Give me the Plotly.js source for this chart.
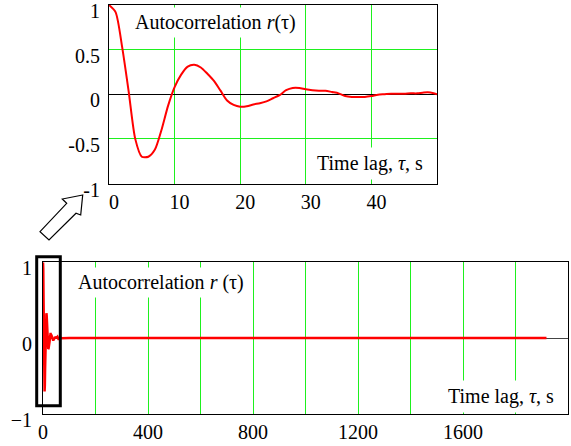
<!DOCTYPE html>
<html>
<head>
<meta charset="utf-8">
<script src="https://cdn.plot.ly/plotly-3.0.1.min.js"></script>
<style>html,body{margin:0;padding:0;background:#fff;}#chart{width:571px;height:446px;}</style>
</head>
<body>
<div id="chart"></div>
<script>
// Autocorrelation r(tau), lags 0..50 s
const lag = [0,1,2,3,4,5,6,7,8,9,10,11,12,13,14,15,16,17,18,19,20,21,22,23,24,25,26,27,28,29,30,31,32,33,34,35,36,37,38,39,40,41,42,43,44,45,46,47,48,49,50];
const r = [1.0,0.92,0.53,0.03,-0.50,-0.70,-0.70,-0.62,-0.40,-0.13,0.08,0.22,0.31,0.33,0.30,0.23,0.15,0.04,-0.07,-0.12,-0.14,-0.135,-0.115,-0.10,-0.08,-0.045,-0.01,0.045,0.07,0.07,0.055,0.045,0.04,0.04,0.025,0.01,-0.02,-0.03,-0.03,-0.03,-0.02,-0.005,0.0,0.005,0.005,0.005,0.01,0.01,0.02,0.02,0.0];
// Long-range tail (bottom panel), near zero
const tailLag = [55,60,65,70,100,300,600,900,1200,1500,1800,1918];
const tailR = [0.02,-0.02,0.015,0.0,0.004,0.003,0.004,0.003,0.004,0.003,0.004,0.003];
// Tick labels
const topXTicks = [0,10,20,30,40];
const topYTicks = [-1,-0.5,0,0.5,1];
const topYText = ['-1','-0.5','0','0.5','1'];
const botXTicks = [0,200,400,600,800,1000,1200,1400,1600,1800];
const botXText = ['0','','400','','800','','1200','','1600',''];
const botYTicks = [-1,0,1];

const W = 571, H = 446;
const px = x => x / W;
const py = y => 1 - y / H;
const FONT = 'Liberation Serif';
const GREEN = '#1ef01e';
const FS = 20;

const traces = [
  {x: lag, y: r, type: 'scatter', mode: 'lines', line: {color: '#ff0000', width: 2, shape: 'spline', smoothing: 0.7}, xaxis: 'x', yaxis: 'y', hoverinfo: 'skip'},
  {x: lag.concat(tailLag), y: r.concat(tailR), type: 'scatter', mode: 'lines', line: {color: '#ff0000', width: 2.5}, xaxis: 'x2', yaxis: 'y2', hoverinfo: 'skip'}
];

const tickFont = {family: FONT, size: FS, color: '#000'};
const layout = {
  width: W, height: H,
  margin: {l: 0, r: 0, t: 0, b: 0},
  paper_bgcolor: '#fff', plot_bgcolor: '#fff',
  font: {family: FONT, color: '#000'},
  showlegend: false,
  xaxis: {domain: [px(109), px(437)], range: [0, 50], tickvals: topXTicks, showgrid: true, gridcolor: GREEN, gridwidth: 1,
          zeroline: false, showline: true, mirror: true, linecolor: '#000', linewidth: 1, ticks: '', tickfont: tickFont,
          ticklabelshift: 5, anchor: 'y', fixedrange: true},
  yaxis: {domain: [py(183.5), py(5)], range: [-1, 1], tickvals: topYTicks, ticktext: topYText, showgrid: true, gridcolor: GREEN, gridwidth: 1,
          zeroline: true, zerolinecolor: '#000', zerolinewidth: 1.5, showline: true, mirror: true, linecolor: '#000', linewidth: 1,
          ticks: '', tickfont: tickFont, ticklabelshift: 6, ticklabelstandoff: 4, anchor: 'x', fixedrange: true},
  xaxis2: {domain: [px(43), px(568)], range: [0, 2000], tickvals: botXTicks, ticktext: botXText, showgrid: true, gridcolor: GREEN, gridwidth: 1,
          zeroline: false, showline: true, mirror: true, linecolor: '#000', linewidth: 1, ticks: '', tickfont: tickFont,
          anchor: 'y2', fixedrange: true},
  yaxis2: {domain: [py(414.3), py(262.3)], range: [-1, 1], tickvals: botYTicks, showgrid: false,
          zeroline: true, zerolinecolor: '#444', zerolinewidth: 1.5, showline: true, mirror: true, linecolor: '#000', linewidth: 1,
          ticks: '', tickfont: tickFont, ticklabelshift: 6, ticklabelstandoff: 6, anchor: 'x2', fixedrange: true},
  annotations: [
    {xref: 'paper', yref: 'paper', x: px(215), y: py(22), xanchor: 'center', yanchor: 'middle', showarrow: false,
     text: 'Autocorrelation <i>r</i>(τ)', font: {family: FONT, size: FS, color: '#000'}, bgcolor: '#fff', borderpad: 3},
    {xref: 'paper', yref: 'paper', x: px(370), y: py(164), xanchor: 'center', yanchor: 'middle', showarrow: false,
     text: 'Time lag, <i>τ</i>, s', font: {family: FONT, size: FS, color: '#000'}, bgcolor: '#fff', borderpad: 4},
    {xref: 'paper', yref: 'paper', x: px(161), y: py(282), xanchor: 'center', yanchor: 'middle', showarrow: false,
     text: 'Autocorrelation <i>r</i> (τ)', font: {family: FONT, size: FS, color: '#000'}, bgcolor: '#fff', borderpad: 3},
    {xref: 'paper', yref: 'paper', x: px(501.5), y: py(396), xanchor: 'center', yanchor: 'middle', showarrow: false,
     text: 'Time lag, <i>τ</i>, s', font: {family: FONT, size: FS, color: '#000'}, bgcolor: '#fff', borderpad: 4}
  ],
  shapes: [
    {type: 'rect', xref: 'paper', yref: 'paper', x0: px(36.7), x1: px(60.3), y0: py(405.7), y1: py(256.7),
     line: {color: '#000', width: 3}, fillcolor: 'rgba(0,0,0,0)'},
    {type: 'path', xref: 'paper', yref: 'paper',
     path: (function(){
       const pts = [[82.7,195],[62.3,199],[66.7,203.3],[40,231.7],[49,240],[76,213.3],[80.7,215]];
       return 'M' + pts.map(p => px(p[0]) + ',' + py(p[1])).join(' L') + ' Z';
     })(),
     line: {color: '#000', width: 1.2}, fillcolor: '#fff'}
  ]
};

Plotly.newPlot('chart', traces, layout, {displayModeBar: false, staticPlot: true});
</script>
</body>
</html>
